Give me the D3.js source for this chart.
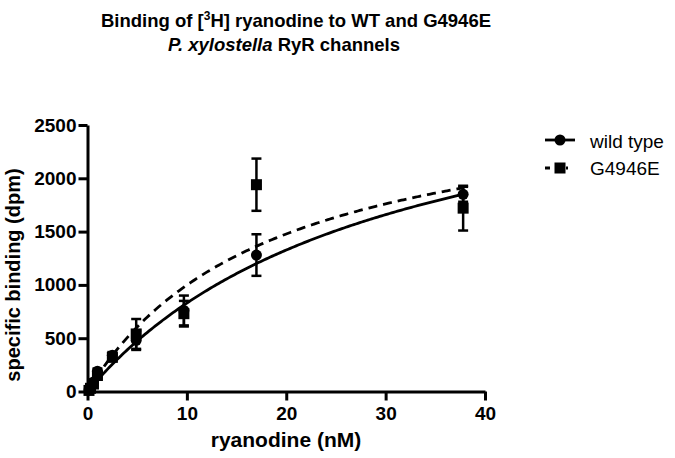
<!DOCTYPE html>
<html><head><meta charset="utf-8">
<script src="https://cdn.jsdelivr.net/npm/d3@7"></script>
<style>
html,body{margin:0;padding:0;background:#fff;}
text{font-family:"Liberation Sans",Arial,sans-serif;}
</style></head>
<body><svg id="c" width="675" height="458"></svg>
<script>
// ---- data ----
const concentrations = [0.15, 0.3, 0.6, 1.0, 2.5, 4.9, 9.7, 17.0, 37.8];
const wildTypeValues = [15, 40, 90, 190, 340, 480, 760, 1280, 1850];
const wildTypeErrors = [10, 15, 20, 25, 30, 90, 140, 195, 70];
const mutantValues = [10, 30, 70, 150, 320, 540, 730, 1940, 1720];
const mutantErrors = [10, 10, 20, 25, 30, 140, 120, 245, 210];
// one-site saturation fit parameters [wild type, G4946E]
const fitBmax = [3318, 2845];
const fitKd = [30, 18.5];
const xTicks = [0, 10, 20, 30, 40];
const yTicks = [0, 500, 1000, 1500, 2000, 2500];
const seriesNames = ["wild type", "G4946E"];

const svg = d3.select("#c");
const x = d3.scaleLinear().domain([0, 40]).range([87.5, 485]);
const y = d3.scaleLinear().domain([0, 2500]).range([391.5, 125]);

// title
const t1 = svg.append("text").attr("x", 296).attr("y", 27).attr("text-anchor", "middle")
  .attr("font-size", 18.5).attr("font-weight", "bold");
t1.append("tspan").text("Binding of [");
t1.append("tspan").attr("font-size", 12).attr("dy", -7).text("3");
t1.append("tspan").attr("dy", 7).text("H] ryanodine to WT and G4946E");
const t2 = svg.append("text").attr("x", 284).attr("y", 51).attr("text-anchor", "middle")
  .attr("font-size", 18.5).attr("font-weight", "bold");
t2.append("tspan").attr("font-style", "italic").text("P. xylostella");
t2.append("tspan").text(" RyR channels");

// axes
const fmt = d3.format("d");
const xAxis = svg.append("g").attr("transform", `translate(0,${y(0)})`)
  .call(d3.axisBottom(x).tickValues(xTicks).tickFormat(fmt).tickSize(9).tickPadding(6).tickSizeOuter(0));
const yAxis = svg.append("g").attr("transform", `translate(${x(0)},0)`)
  .call(d3.axisLeft(y).tickValues(yTicks).tickFormat(fmt).tickSize(9).tickPadding(2).tickSizeOuter(0));
[xAxis, yAxis].forEach(a => {
  a.select(".domain").attr("stroke", "#000").attr("stroke-width", 3);
  a.selectAll(".tick line").attr("stroke", "#000").attr("stroke-width", 3);
  a.selectAll(".tick text").attr("font-size", 19).attr("font-weight", "bold")
    .attr("fill", "#000").attr("font-family", "Liberation Sans, Arial, sans-serif");
});
xAxis.selectAll(".tick text").attr("dy", "0.71em");

svg.append("text").attr("x", 286).attr("y", 447).attr("text-anchor", "middle")
  .attr("font-size", 21).attr("font-weight", "bold").text("ryanodine (nM)");
svg.append("text").attr("transform", "translate(20,275) rotate(-90)").attr("text-anchor", "middle")
  .attr("font-size", 20).attr("font-weight", "bold").text("specific binding (dpm)");

// fit curves
const xs = d3.range(0, 37.8001, 0.2);
const line = d3.line().x(d => x(d[0])).y(d => y(d[1]));
[0, 1].forEach(i => {
  svg.append("path")
    .attr("d", line(xs.map(c => [c, fitBmax[i] * c / (fitKd[i] + c)])))
    .attr("fill", "none").attr("stroke", "#000").attr("stroke-width", 2.8)
    .attr("stroke-dasharray", i === 1 ? "9,6" : null);
});

// error bars + markers
function drawSeries(vals, errs, shape) {
  const g = svg.append("g");
  concentrations.forEach((c, k) => {
    const cx = x(c), cy = y(vals[k]);
    const top = y(vals[k] + errs[k]), bot = y(Math.max(0, vals[k] - errs[k]));
    g.append("line").attr("x1", cx).attr("x2", cx).attr("y1", top).attr("y2", bot)
      .attr("stroke", "#000").attr("stroke-width", 2.5);
    [top, bot].forEach(yy => g.append("line").attr("x1", cx - 5).attr("x2", cx + 5)
      .attr("y1", yy).attr("y2", yy).attr("stroke", "#000").attr("stroke-width", 2.5));
    if (shape === "circle") g.append("circle").attr("cx", cx).attr("cy", cy).attr("r", 5.5).attr("fill", "#000");
    else g.append("rect").attr("x", cx - 5.5).attr("y", cy - 5.5).attr("width", 11).attr("height", 11).attr("fill", "#000");
  });
}
drawSeries(mutantValues, mutantErrors, "square");
drawSeries(wildTypeValues, wildTypeErrors, "circle");

// legend
const lg = svg.append("g");
lg.append("line").attr("x1", 545).attr("x2", 575).attr("y1", 140).attr("y2", 140)
  .attr("stroke", "#000").attr("stroke-width", 2.8);
lg.append("circle").attr("cx", 560).attr("cy", 140).attr("r", 5.5);
lg.append("text").attr("x", 590).attr("y", 148).attr("font-size", 19).text(seriesNames[0]);
lg.append("line").attr("x1", 545).attr("x2", 575).attr("y1", 168).attr("y2", 168)
  .attr("stroke", "#000").attr("stroke-width", 2.8).attr("stroke-dasharray", "5,5,6,5,2,10");
lg.append("rect").attr("x", 554.5).attr("y", 162.5).attr("width", 11).attr("height", 11);
lg.append("text").attr("x", 590).attr("y", 175).attr("font-size", 19).text(seriesNames[1]);
</script></body></html>
